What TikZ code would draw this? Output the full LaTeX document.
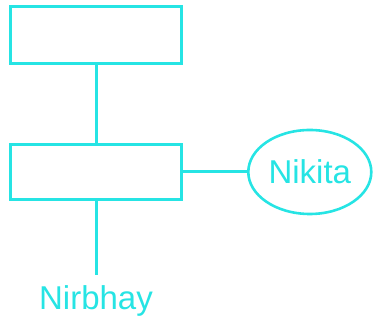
\documentclass[tikz,border=0pt]{standalone}
\usepackage{fontspec}
\setmainfont{Liberation Sans}
\usetikzlibrary{shapes}
\usetikzlibrary{positioning}
\definecolor{aqua}{RGB}{38,228,228}
\tikzset{entity/.style={rectangle,draw=aqua,line width=3pt,inner sep=0pt,
minimum width=171pt},
attrib/.style={ellipse,draw=aqua,line width=2.6pt,inner sep=0pt,
minimum width=123pt, minimum height=84pt},
word/.style={text=aqua,inner sep=0pt,outer sep=0pt,
font=\fontsize{33}{33}\selectfont},
link/.style={draw=aqua,line width=3pt}}
\begin{document}
\begin{tikzpicture}[x=1pt,y=-1pt]
  \useasboundingbox (0,0) rectangle (376,320);
  \node (owner) [entity,minimum height=57pt] at (96,35) {};
  \node (person) [entity,minimum height=55pt] at (96,172) {};
  \node (nikita) [attrib,right=64pt of person] {};
  \node (nikitatext) [word] at (nikita.center) {Nikita};
  \node (nirbhay) [word,below=85pt of person] {Nirbhay};

  \draw [link] (owner) -- (person);
  \draw [link] (person) -- (nikita);
  \draw [link,shorten >=11pt] (person) -- (nirbhay);
\end{tikzpicture}
\end{document}
